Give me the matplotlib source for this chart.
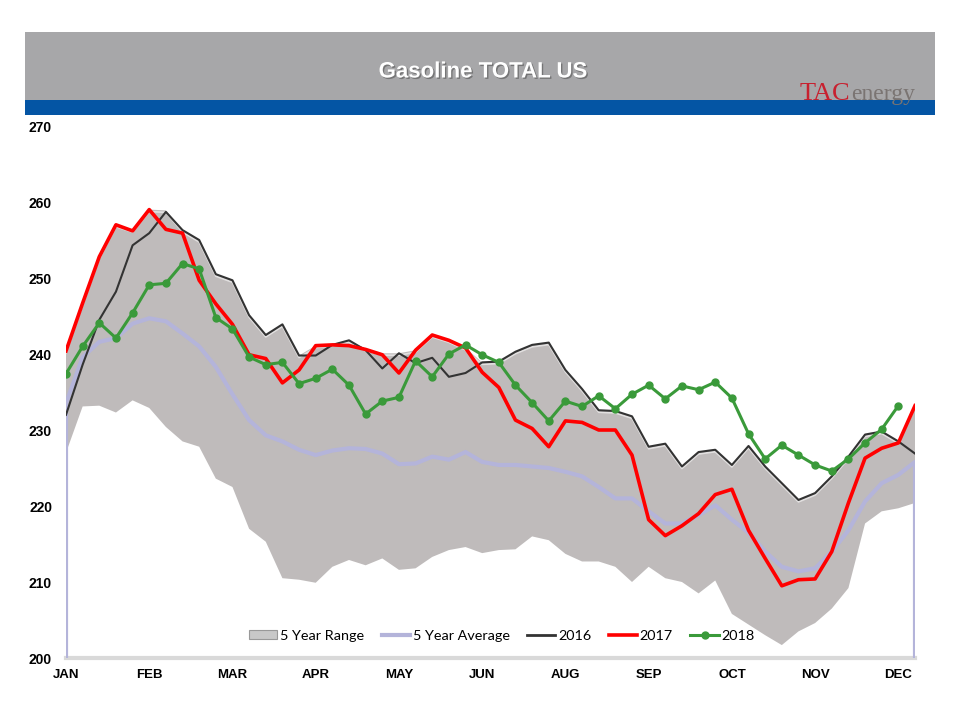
import matplotlib
matplotlib.use("Agg")
import matplotlib.pyplot as plt
from matplotlib.patches import Rectangle, Patch
from matplotlib.lines import Line2D
import matplotlib.patheffects as pe
import matplotlib.transforms as mtrans

# ---------------- data ----------------
tick_labels = ["JAN", "FEB", "MAR", "APR", "MAY", "JUN", "AUG", "SEP", "OCT", "NOV", "DEC"]
tick_every = 5

range_high = [240.4, 246.7, 252.8, 257.0, 256.3, 259.0, 258.9, 256.3, 255.0, 250.5,
              249.7, 245.1, 242.5, 243.9, 239.8, 241.1, 241.3, 241.8, 240.7, 240.1,
              240.1, 240.5, 242.5, 241.8, 240.8, 238.9, 239.0, 240.3, 241.2, 241.5,
              237.9, 235.4, 232.6, 232.5, 231.8, 227.8, 228.2, 225.2, 227.1, 227.4,
              225.4, 227.9, 225.2, 223.0, 220.8, 221.7, 223.9, 226.5, 229.4, 229.8,
              228.5, 233.2]
range_low = [227.0, 233.1, 233.2, 232.3, 233.9, 232.9, 230.4, 228.5, 227.8, 223.6,
             222.5, 217.0, 215.3, 210.5, 210.3, 209.9, 212.0, 212.9, 212.2, 213.1,
             211.6, 211.8, 213.3, 214.2, 214.6, 213.8, 214.2, 214.3, 216.0, 215.5,
             213.7, 212.7, 212.7, 212.0, 210.0, 212.0, 210.5, 210.0, 208.5, 210.2,
             205.8, 204.4, 203.0, 201.7, 203.5, 204.6, 206.5, 209.2, 217.7, 219.3,
             219.7, 220.4]
avg5 = [233.5, 239.6, 241.6, 242.1, 244.0, 244.7, 244.3, 242.7, 241.0, 238.3,
        234.7, 231.3, 229.3, 228.5, 227.4, 226.7, 227.3, 227.6, 227.5, 226.9,
        225.5, 225.6, 226.5, 226.1, 227.1, 225.8, 225.4, 225.4, 225.2, 225.0,
        224.5, 223.9, 222.5, 221.0, 221.0, 219.3, 217.7, 217.7, 218.8, 220.1,
        218.2, 216.5, 214.0, 212.0, 211.4, 211.8, 214.0, 216.8, 220.6, 223.0,
        224.1, 225.8]
y2016 = [232.0, 238.6, 244.5, 248.2, 254.3, 255.9, 258.7, 256.3, 255.0, 250.5,
         249.7, 245.1, 242.5, 243.9, 239.8, 239.8, 241.2, 241.8, 240.5, 238.1,
         240.1, 238.8, 239.5, 237.0, 237.5, 238.9, 239.0, 240.3, 241.2, 241.5,
         237.9, 235.4, 232.6, 232.5, 231.8, 227.8, 228.2, 225.2, 227.1, 227.4,
         225.4, 227.9, 225.2, 223.0, 220.8, 221.7, 223.9, 226.5, 229.4, 229.8,
         228.5, 226.9]
y2017 = [240.4, 246.7, 252.8, 257.0, 256.2, 259.0, 256.4, 255.9, 249.7, 246.6,
         243.9, 239.9, 239.4, 236.2, 237.9, 241.1, 241.2, 241.1, 240.6, 239.9,
         237.5, 240.5, 242.5, 241.8, 240.8, 237.6, 235.6, 231.3, 230.2, 227.8,
         231.2, 231.0, 230.0, 230.0, 226.7, 218.2, 216.1, 217.4, 219.0, 221.5,
         222.2, 216.8, 213.1, 209.5, 210.3, 210.4, 214.0, 220.4, 226.3, 227.6,
         228.3, 233.2]
y2018 = [237.4, 241.0, 244.1, 242.1, 245.4, 249.1, 249.3, 251.9, 251.2, 244.8,
         243.3, 239.6, 238.6, 238.9, 236.1, 236.8, 238.0, 235.9, 232.1, 233.8,
         234.3, 239.1, 237.0, 240.0, 241.2, 239.9, 238.9, 235.9, 233.6, 231.2,
         233.8, 233.1, 234.5, 232.8, 234.7, 235.9, 234.1, 235.8, 235.3, 236.3,
         234.2, 229.5, 226.2, 228.0, 226.7, 225.4, 224.6, 226.2, 228.3, 230.1,
         233.2]

# ---------------- figure ----------------
W, H = 960, 720
fig = plt.figure(figsize=(W / 100, H / 100), dpi=100)
fig.patch.set_facecolor("white")

def fx(px):
    return px / W

def fy(py):
    return 1 - py / H

# header band
fig.add_artist(Rectangle((fx(25), fy(100)), fx(910), 68 / H, transform=fig.transFigure,
                         facecolor="#A7A7A9", edgecolor="none"))
fig.add_artist(Rectangle((fx(25), fy(115)), fx(910), 15 / H, transform=fig.transFigure,
                         facecolor="#0455A4", edgecolor="none"))
fig.text(fx(483), fy(72), "Gasoline TOTAL US", color="white", fontsize=16,
         fontweight="bold", family="Liberation Sans", ha="center", va="center",
         path_effects=[pe.withSimplePatchShadow(offset=(1, -1), shadow_rgbFace="#555555", alpha=0.6)])
# logo
fig.text(fx(800), fy(100), "TAC", color="#C8202F", fontsize=19, family="Liberation Serif",
         ha="left", va="baseline")
fig.text(fx(851), fy(100), "energy", color="#7A7472", fontsize=17, family="Liberation Serif",
         ha="left", va="baseline")

# axes
left, right = 66, 915
top, bottom = 126, 658
ax = fig.add_axes([fx(left), fy(bottom), (right - left) / W, (bottom - top) / H])
x = list(range(len(range_high)))
ax.set_xlim(0, len(range_high) - 1)
ax.set_ylim(200, 270)

ax.fill_between(x, range_low, range_high, facecolor="#BFBBBB", edgecolor="none", zorder=1)
ax.plot(x, range_high, color="white", lw=1.2, alpha=0.55, zorder=1.5,
        transform=ax.transData + mtrans.ScaledTranslation(0, -2 / 100, fig.dpi_scale_trans))

avg_x = [x[0]] + x + [x[-1]]
avg_y = [200] + avg5 + [200]
ax.plot(avg_x, avg_y, color="#B4B4DA", lw=3, zorder=2, solid_joinstyle="round")
ax.plot(x, y2016, color="#333333", lw=1.5, zorder=3)
ax.plot(x, y2017, color="#FF0000", lw=2.6, zorder=4)
ax.plot(range(len(y2018)), y2018, color="#3A9A3A", lw=2.2, marker="o", ms=5, zorder=5)

for s in ax.spines.values():
    s.set_visible(False)
ax.axhline(200, color="#D9D9D9", lw=3, zorder=0.5, clip_on=False)

ax.set_yticks(range(200, 271, 10))
ax.set_yticklabels([str(v) for v in range(200, 271, 10)], fontsize=10, fontweight="bold",
                   family="Liberation Sans")
ax.set_xticks([i * tick_every for i in range(len(tick_labels))])
ax.set_xticklabels(tick_labels, fontsize=9.5, fontweight="bold", family="Liberation Sans")
ax.tick_params(axis="both", length=0)
ax.tick_params(axis="y", pad=10)
ax.tick_params(axis="x", pad=8)
ax.set_facecolor("none")

handles = [
    Patch(facecolor="#C8C8C8", edgecolor="#999999", linewidth=0.8),
    Line2D([], [], color="#B4B4DA", lw=3),
    Line2D([], [], color="#333333", lw=2),
    Line2D([], [], color="#FF0000", lw=2.6),
    Line2D([], [], color="#3A9A3A", lw=2.2, marker="o", ms=5),
]
labels = ["5 Year Range", "5 Year Average", "2016", "2017", "2018"]
fig.legend(handles, labels, loc="center", bbox_to_anchor=(fx(502), fy(636)), ncol=5,
           frameon=False, handlelength=1.95, handleheight=0.6, columnspacing=1.2,
           handletextpad=0.2, prop={"family": "Lato", "size": 10.4})

fig.savefig("out.png", dpi=100)
